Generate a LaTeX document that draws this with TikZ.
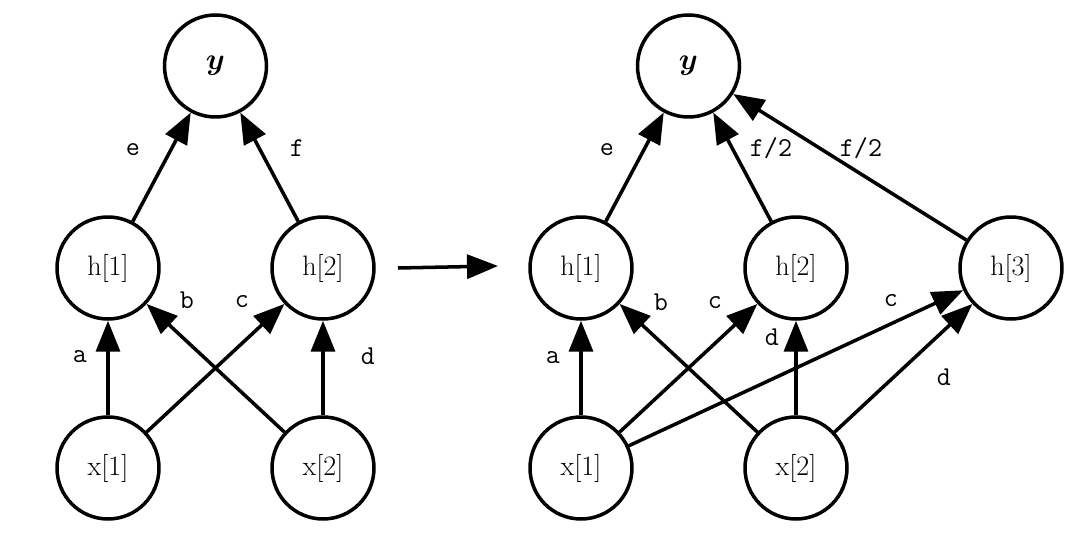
\documentclass[tikz,border=0pt]{standalone}
\usepackage{bm}
\usetikzlibrary{arrows.meta}
\begin{document}
\begin{tikzpicture}[x=0.02cm,y=-0.02cm,
  neuron/.style={circle,draw,line width=2pt,minimum size=2.04cm,inner sep=0pt,font=\fontsize{16}{19}\selectfont},
  lbl/.style={font=\fontsize{15.5}{18}\selectfont\ttfamily,inner sep=0pt},
  conn/.style={line width=2pt,-{Triangle[length=0.62cm,width=0.48cm]}}]
\useasboundingbox[fill=white] (0,0) rectangle (1080,534);
% left network
\node[neuron] (Ly)  at (215.5,66) {$\bm{y}$};
\node[neuron] (Lh1) at (108,268) {h[1]};
\node[neuron] (Lh2) at (323,268) {h[2]};
\node[neuron] (Lx1) at (108,468) {x[1]};
\node[neuron] (Lx2) at (323,468) {x[2]};
\draw[conn] (Lx1) -- (Lh1);
\draw[conn] (Lx2) -- (Lh1);
\draw[conn] (Lx1) -- (Lh2);
\draw[conn] (Lx2) -- (Lh2);
\draw[conn] (Lh1) -- (Ly);
\draw[conn] (Lh2) -- (Ly);
\node[lbl] (La) at (80,357) {a};
\node[lbl] (Lb) at (187,300) {b};
\node[lbl] (Lc) at (242,302) {c};
\node[lbl] (Ld) at (368,356) {d};
\node[lbl] (Le) at (133,150) {e};
\node[lbl] (Lf) at (297,148) {f};
% middle arrow
\coordinate (m1) at (398,268);
\coordinate (m2) at (498,266);
\draw[conn] (m1) -- (m2);
% right network
\node[neuron] (Ry)  at (688.5,66) {$\bm{y}$};
\node[neuron] (Rh1) at (581,268) {h[1]};
\node[neuron] (Rh2) at (796,268) {h[2]};
\node[neuron] (Rh3) at (1011,268) {h[3]};
\node[neuron] (Rx1) at (581,468) {x[1]};
\node[neuron] (Rx2) at (796,468) {x[2]};
\draw[conn] (Rx1) -- (Rh1);
\draw[conn] (Rx2) -- (Rh1);
\draw[conn] (Rx1) -- (Rh2);
\draw[conn] (Rx2) -- (Rh2);
\draw[conn] (Rx1) -- (Rh3);
\draw[conn] (Rx2) -- (Rh3);
\draw[conn] (Rh1) -- (Ry);
\draw[conn] (Rh2) -- (Ry);
\draw[conn] (Rh3) -- (Ry);
\node[lbl] (Ra)  at (553,358) {a};
\node[lbl] (Rb)  at (661,302) {b};
\node[lbl] (Rc1) at (715,303) {c};
\node[lbl] (Rc2) at (891,301) {c};
\node[lbl] (Rd1) at (772,337) {d};
\node[lbl] (Rd2) at (944,377) {d};
\node[lbl] (Re)  at (607,150) {e};
\node[lbl] (Rf1) at (771,148) {f/2};
\node[lbl] (Rf2) at (861,148) {f/2};
\end{tikzpicture}
\end{document}
